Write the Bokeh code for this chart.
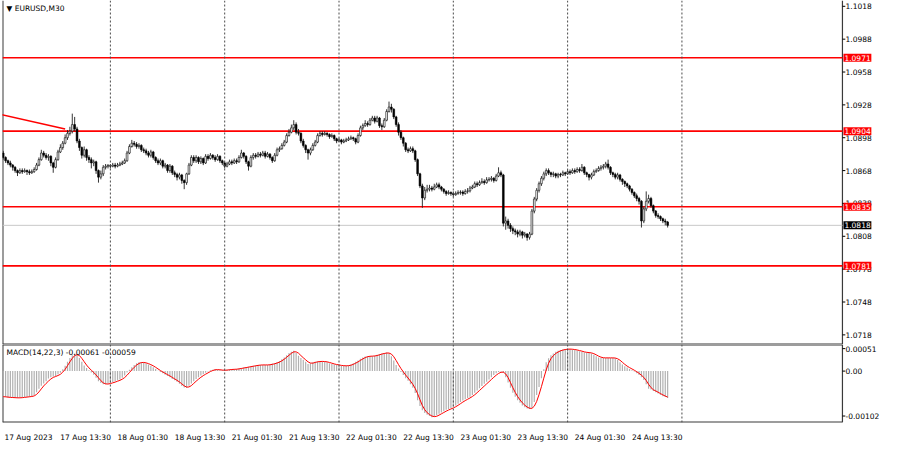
import pandas as pd
from bokeh.plotting import figure
from bokeh.layouts import column
from bokeh.models import (Range1d, FixedTicker, Span, Label, ColumnDataSource,
                          NumeralTickFormatter)
from bokeh.embed import file_html
from bokeh.resources import INLINE

# ---------------- data (EURUSD, M30) ----------------
symbol_title = "\u25BC EURUSD,M30"
first_bar_time = "2023-08-17 01:30"
first_open = 1.0884

close = [
    1.0880, 1.0877, 1.0875, 1.0873, 1.0871, 1.0868, 1.0866, 1.0868, 1.0867, 1.0868, 1.0867, 1.0866,
    1.0867, 1.0869, 1.0873, 1.0878, 1.0884, 1.0882, 1.0880, 1.0881, 1.0875, 1.0871, 1.0878, 1.0885,
    1.0889, 1.0893, 1.0898, 1.0902, 1.0904, 1.0910, 1.0906, 1.0895, 1.0889, 1.0882, 1.0887, 1.0880,
    1.0878, 1.0875, 1.0876, 1.0868, 1.0862, 1.0865, 1.0871, 1.0872, 1.08725, 1.0872, 1.0873, 1.0872,
    1.0873, 1.0874, 1.0875, 1.0877, 1.0884, 1.0890, 1.0893, 1.0892, 1.0890, 1.0891, 1.0887, 1.0886,
    1.0884, 1.0882, 1.0885, 1.0880, 1.0877, 1.0875, 1.0877, 1.0872, 1.0873, 1.0868, 1.0872, 1.0866,
    1.08645, 1.0862, 1.0864, 1.0859, 1.0857, 1.0865, 1.0873, 1.0880, 1.0877, 1.0880, 1.0876, 1.0879,
    1.0875, 1.0881, 1.0879, 1.0882, 1.0880, 1.0878, 1.0881, 1.0877, 1.0875, 1.0872, 1.0874, 1.0876,
    1.0875, 1.0877, 1.0876, 1.0880, 1.0884, 1.0881, 1.0876, 1.0872, 1.0880, 1.0882, 1.0881, 1.0883,
    1.0882, 1.0884, 1.0881, 1.0883, 1.0880, 1.0877, 1.0882, 1.0887, 1.0888, 1.0891, 1.0894, 1.0900,
    1.0903, 1.0907, 1.0910, 1.0903, 1.0902, 1.0895, 1.0891, 1.0887, 1.0884, 1.0887, 1.0891, 1.0894,
    1.0900, 1.0902, 1.0901, 1.0902, 1.0901, 1.0899, 1.0900, 1.0897, 1.0895, 1.0896, 1.0894, 1.0895,
    1.0896, 1.0897, 1.0898, 1.0897, 1.0894, 1.0900, 1.0907, 1.0909, 1.0911, 1.0910, 1.0914, 1.0916,
    1.0913, 1.0916, 1.0909, 1.0908, 1.0914, 1.0922, 1.0926, 1.0924, 1.0917, 1.0910, 1.0903, 1.0898,
    1.0893, 1.0887, 1.0886, 1.0888, 1.0886, 1.0878, 1.0865, 1.0854, 1.0843, 1.0850, 1.0851, 1.0852,
    1.0851, 1.0853, 1.0855, 1.0853, 1.0851, 1.0849, 1.0847, 1.0848, 1.0847, 1.0846, 1.0847, 1.0848,
    1.08484, 1.0847, 1.0849, 1.08495, 1.0852, 1.0853, 1.0856, 1.0855, 1.0857, 1.0858, 1.0857, 1.08595,
    1.0860, 1.0861, 1.0859, 1.0863, 1.0866, 1.0864, 1.0820, 1.0822, 1.0818, 1.0815, 1.0813, 1.0812,
    1.0810, 1.0812, 1.0809, 1.0810, 1.0807, 1.0810, 1.0831, 1.0842, 1.0850, 1.0856, 1.0861, 1.0865,
    1.0868, 1.0866, 1.08645, 1.0865, 1.0863, 1.08645, 1.0864, 1.0866, 1.0865, 1.0867, 1.0866, 1.0868,
    1.0867, 1.0869, 1.0868, 1.0871, 1.0866, 1.08645, 1.0862, 1.0864, 1.0867, 1.0868, 1.0870, 1.0871,
    1.0872, 1.0874, 1.0871, 1.0866, 1.08645, 1.0862, 1.0864, 1.0860, 1.0858, 1.0856, 1.0854, 1.0851,
    1.0848, 1.0845, 1.08425, 1.0840, 1.0822, 1.0833, 1.0840, 1.08425, 1.0836, 1.0831, 1.0827, 1.0826,
    1.0824, 1.0822, 1.0821, 1.0818,
]

high = [
    1.0886, 1.0881, 1.0878, 1.0877, 1.0874, 1.0872, 1.0869, 1.0870, 1.0870, 1.0870, 1.0869, 1.0869,
    1.0869, 1.0871, 1.0875, 1.0880, 1.0887, 1.0886, 1.0884, 1.0883, 1.0882, 1.0876, 1.0880, 1.0887,
    1.0892, 1.0895, 1.0901, 1.0905, 1.0908, 1.0920, 1.0917, 1.0908, 1.0897, 1.0890, 1.0890, 1.0888,
    1.0882, 1.0880, 1.0878, 1.0877, 1.0869, 1.0868, 1.0873, 1.0874, 1.0874, 1.0874, 1.0875, 1.0875,
    1.0875, 1.0876, 1.0877, 1.0879, 1.0886, 1.0892, 1.0896, 1.0895, 1.0894, 1.0893, 1.0892, 1.0889,
    1.0888, 1.0886, 1.0887, 1.0886, 1.0881, 1.0879, 1.0879, 1.0878, 1.0875, 1.0874, 1.0874, 1.0873,
    1.0868, 1.0866, 1.0866, 1.0865, 1.0860, 1.0866, 1.0875, 1.0882, 1.0882, 1.0882, 1.0881, 1.0881,
    1.0880, 1.0883, 1.0883, 1.0884, 1.0883, 1.0882, 1.0883, 1.0882, 1.0878, 1.0876, 1.0876, 1.0878,
    1.0878, 1.0879, 1.0879, 1.0882, 1.0887, 1.0885, 1.0882, 1.0877, 1.0882, 1.0884, 1.0884, 1.0885,
    1.0885, 1.0886, 1.0886, 1.0885, 1.0884, 1.0881, 1.0884, 1.0889, 1.0890, 1.0893, 1.0896, 1.0902,
    1.0906, 1.0910, 1.0914, 1.0912, 1.0906, 1.0903, 1.0897, 1.0892, 1.0888, 1.0889, 1.0893, 1.0896,
    1.0902, 1.0904, 1.0904, 1.0904, 1.0903, 1.0902, 1.0902, 1.0901, 1.0898, 1.0898, 1.0897, 1.0897,
    1.0898, 1.0899, 1.0900, 1.0899, 1.0898, 1.0902, 1.0909, 1.0911, 1.0914, 1.0913, 1.0916, 1.0918,
    1.0918, 1.0918, 1.0917, 1.0911, 1.0916, 1.0924, 1.0931, 1.0929, 1.0925, 1.0918, 1.0912, 1.0905,
    1.0899, 1.0894, 1.0889, 1.0890, 1.0890, 1.0887, 1.0879, 1.0866, 1.0856, 1.0853, 1.0855, 1.0855,
    1.0854, 1.0856, 1.0857, 1.0857, 1.0854, 1.0852, 1.0850, 1.0850, 1.0849, 1.0849, 1.0849, 1.0850,
    1.0850, 1.0850, 1.0851, 1.0852, 1.0854, 1.0855, 1.0858, 1.0858, 1.0859, 1.0861, 1.0860, 1.0862,
    1.0862, 1.0863, 1.0862, 1.0865, 1.0871, 1.0868, 1.0865, 1.0826, 1.0824, 1.0820, 1.0817, 1.0815,
    1.0814, 1.0814, 1.0813, 1.0812, 1.0811, 1.0812, 1.0833, 1.0844, 1.0852, 1.0858, 1.0863, 1.0867,
    1.0870, 1.0870, 1.0867, 1.0867, 1.0866, 1.0866, 1.0866, 1.0868, 1.0867, 1.0869, 1.0869, 1.0870,
    1.0870, 1.0871, 1.0871, 1.0874, 1.0872, 1.0867, 1.0865, 1.0866, 1.0869, 1.0870, 1.0872, 1.0873,
    1.0874, 1.0876, 1.0878, 1.0872, 1.0867, 1.0866, 1.0866, 1.0865, 1.0861, 1.0859, 1.0857, 1.0855,
    1.0852, 1.0849, 1.0847, 1.0844, 1.0841, 1.0835, 1.0849, 1.0846, 1.0844, 1.0837, 1.0832, 1.0829,
    1.0827, 1.0825, 1.0824, 1.0822,
]

low = [
    1.0878, 1.0875, 1.0873, 1.0871, 1.0868, 1.0866, 1.0863, 1.0865, 1.0865, 1.0866, 1.0864, 1.0864,
    1.0865, 1.0866, 1.0868, 1.0872, 1.0877, 1.0880, 1.0878, 1.0877, 1.0872, 1.0866, 1.0870, 1.0877,
    1.0884, 1.0887, 1.0892, 1.0896, 1.0900, 1.0902, 1.0904, 1.0893, 1.0886, 1.0879, 1.0880, 1.0877,
    1.0875, 1.0870, 1.0872, 1.0865, 1.0857, 1.0860, 1.0863, 1.0869, 1.0870, 1.0870, 1.0871, 1.0870,
    1.0871, 1.0872, 1.0873, 1.0874, 1.0876, 1.0883, 1.0889, 1.0890, 1.0888, 1.0888, 1.0885, 1.0884,
    1.0882, 1.0880, 1.0880, 1.0878, 1.0875, 1.0873, 1.0873, 1.0870, 1.0870, 1.0866, 1.0866, 1.0864,
    1.0862, 1.0859, 1.0860, 1.0856, 1.0851, 1.0855, 1.0864, 1.0872, 1.0875, 1.0875, 1.0874, 1.0874,
    1.0873, 1.0874, 1.0877, 1.0878, 1.0878, 1.0876, 1.0877, 1.0875, 1.0873, 1.0870, 1.0871, 1.0873,
    1.0873, 1.0874, 1.0874, 1.0875, 1.0879, 1.0879, 1.0874, 1.0868, 1.0871, 1.0878, 1.0879, 1.0880,
    1.0880, 1.0881, 1.0879, 1.0880, 1.0878, 1.0875, 1.0876, 1.0881, 1.0885, 1.0887, 1.0890, 1.0893,
    1.0899, 1.0902, 1.0905, 1.0901, 1.0900, 1.0893, 1.0889, 1.0884, 1.0878, 1.0882, 1.0886, 1.0890,
    1.0893, 1.0899, 1.0899, 1.0900, 1.0899, 1.0897, 1.0898, 1.0895, 1.0893, 1.0894, 1.0892, 1.0893,
    1.0894, 1.0895, 1.0896, 1.0895, 1.0892, 1.0893, 1.0899, 1.0905, 1.0908, 1.0908, 1.0909, 1.0913,
    1.0911, 1.0912, 1.0907, 1.0905, 1.0907, 1.0913, 1.0921, 1.0921, 1.0915, 1.0908, 1.0900, 1.0896,
    1.0890, 1.0885, 1.0884, 1.0885, 1.0884, 1.0876, 1.0863, 1.0852, 1.0834, 1.0841, 1.0848, 1.0849,
    1.0849, 1.0850, 1.0852, 1.0851, 1.0849, 1.0847, 1.0845, 1.0846, 1.0845, 1.0844, 1.0845, 1.0846,
    1.0846, 1.0845, 1.0846, 1.0847, 1.0848, 1.0851, 1.0852, 1.0853, 1.0854, 1.0856, 1.0855, 1.0856,
    1.0858, 1.0858, 1.0857, 1.0858, 1.0862, 1.0862, 1.0817, 1.0814, 1.0815, 1.0812, 1.0810, 1.0809,
    1.0807, 1.0808, 1.0806, 1.0807, 1.0804, 1.0805, 1.0809, 1.0829, 1.0840, 1.0848, 1.0854, 1.0859,
    1.0863, 1.0864, 1.0862, 1.0862, 1.0861, 1.0861, 1.0862, 1.0863, 1.0863, 1.0864, 1.0864, 1.0865,
    1.0865, 1.0866, 1.0866, 1.0867, 1.0864, 1.0862, 1.0859, 1.0860, 1.0863, 1.0866, 1.0867, 1.0868,
    1.0869, 1.0870, 1.0869, 1.0864, 1.0862, 1.0860, 1.0860, 1.0858, 1.0855, 1.0853, 1.0852, 1.0849,
    1.0846, 1.0843, 1.0840, 1.0837, 1.0816, 1.0820, 1.0831, 1.0838, 1.0834, 1.0829, 1.0825, 1.0824,
    1.0822, 1.0820, 1.0818, 1.0816,
]

macd_main = [
    -0.00058, -0.00059, -0.00060, -0.00060, -0.00060, -0.00061, -0.00061, -0.00060, -0.00060, -0.00059, -0.00058, -0.00058,
    -0.00057, -0.00054, -0.00048, -0.00040, -0.00033, -0.00028, -0.00023, -0.00017, -0.00014, -0.00012, -0.00011, -0.00007,
    -0.00004, 0.00004, 0.00012, 0.00021, 0.00030, 0.00036, 0.00040, 0.00036, 0.00030, 0.00021, 0.00013, 0.00007,
    0.00002, -0.00003, -0.00008, -0.00015, -0.00023, -0.00027, -0.00030, -0.00030, -0.00028, -0.00027, -0.00025, -0.00023,
    -0.00021, -0.00019, -0.00015, -0.00010, -0.00003, 0.00003, 0.00009, 0.00014, 0.00018, 0.00020, 0.00020, 0.00019,
    0.00017, 0.00015, 0.00012, 0.00009, 0.00005, 0.00001, -0.00002, -0.00005, -0.00008, -0.00011, -0.00014, -0.00018,
    -0.00021, -0.00024, -0.00029, -0.00034, -0.00037, -0.00038, -0.00033, -0.00028, -0.00023, -0.00018, -0.00014, -0.00010,
    -0.00007, -0.00004, -0.00001, 0.00002, 0.00003, 0.00004, 0.00003, 0.00002, 0.00002, 0.00002, 0.00003, 0.00004,
    0.00004, 0.00004, 0.00005, 0.00006, 0.00007, 0.00008, 0.00009, 0.00010, 0.00011, 0.00012, 0.00013, 0.00014,
    0.00014, 0.00014, 0.00014, 0.00014, 0.00015, 0.00017, 0.00018, 0.00020, 0.00023, 0.00027, 0.00031, 0.00036,
    0.00041, 0.00044, 0.00046, 0.00041, 0.00035, 0.00030, 0.00026, 0.00021, 0.00016, 0.00018, 0.00020, 0.00021,
    0.00022, 0.00022, 0.00022, 0.00021, 0.00020, 0.00018, 0.00016, 0.00015, 0.00014, 0.00013, 0.00012, 0.00012,
    0.00012, 0.00013, 0.00015, 0.00018, 0.00021, 0.00024, 0.00028, 0.00031, 0.00033, 0.00034, 0.00034, 0.00034,
    0.00035, 0.00037, 0.00039, 0.00040, 0.00041, 0.00042, 0.00040, 0.00034, 0.00024, 0.00014, 0.00006, -0.00002,
    -0.00009, -0.00016, -0.00022, -0.00030, -0.00038, -0.00050, -0.00066, -0.00079, -0.00089, -0.00095, -0.00099, -0.00102,
    -0.00105, -0.00103, -0.00100, -0.00097, -0.00094, -0.00091, -0.00088, -0.00086, -0.00084, -0.00081, -0.00078, -0.00074,
    -0.00070, -0.00067, -0.00064, -0.00061, -0.00058, -0.00054, -0.00049, -0.00044, -0.00039, -0.00034, -0.00029, -0.00024,
    -0.00019, -0.00014, -0.00009, -0.00005, -0.00002, -0.00001, -0.00004, -0.00014, -0.00026, -0.00038, -0.00049, -0.00058,
    -0.00066, -0.00072, -0.00078, -0.00082, -0.00085, -0.00086, -0.00083, -0.00070, -0.00054, -0.00036, -0.00016, 0.00004,
    0.00020, 0.00029, 0.00036, 0.00040, 0.00044, 0.00046, 0.00048, 0.00049, 0.00050, 0.00050, 0.00050, 0.00049,
    0.00048, 0.00047, 0.00045, 0.00044, 0.00042, 0.00042, 0.00042, 0.00040, 0.00037, 0.00034, 0.00031, 0.00030,
    0.00030, 0.00030, 0.00030, 0.00030, 0.00030, 0.00029, 0.00025, 0.00020, 0.00015, 0.00011, 0.00008, 0.00005,
    0.00002, -0.00001, -0.00005, -0.00009, -0.00014, -0.00020, -0.00030, -0.00040, -0.00042, -0.00045, -0.00048, -0.00051,
    -0.00054, -0.00057, -0.00059, -0.00061,
]
macd_params = (14, 22, 3)

levels = [1.0971, 1.0904, 1.0835, 1.0781]
bid_price = 1.0818
trend_bar_pos = [-1.0, 26.0]
trend_prices = [1.09192, 1.09060]

price_ticks = [1.1018, 1.0988, 1.0958, 1.0928, 1.0898, 1.0868, 1.0838, 1.0808, 1.0778, 1.0748, 1.0718]
macd_ticks = [0.00051, 0.0, -0.00102]
macd_tick_labels = ["0.00051", "0.00", "-0.00102"]

time_tick_times = ["2023-08-17 01:30", "2023-08-17 13:30", "2023-08-18 01:30", "2023-08-18 13:30",
                   "2023-08-21 01:30", "2023-08-21 13:30", "2023-08-22 01:30", "2023-08-22 13:30",
                   "2023-08-23 01:30", "2023-08-23 13:30", "2023-08-24 01:30", "2023-08-24 13:30"]
time_tick_labels = ["17 Aug 2023", "17 Aug 13:30", "18 Aug 01:30", "18 Aug 13:30",
                    "21 Aug 01:30", "21 Aug 13:30", "22 Aug 01:30", "22 Aug 13:30",
                    "23 Aug 01:30", "23 Aug 13:30", "24 Aug 01:30", "24 Aug 13:30"]
separator_days = ["2023-08-18", "2023-08-21", "2023-08-22", "2023-08-23", "2023-08-24", "2023-08-25"]

# ---------------- derived ----------------
n = len(close)
idx = list(range(n))
opens = [first_open] + close[:-1]
hi = [max(h, o, c) for h, o, c in zip(high, opens, close)]
lo = [min(l, o, c) for l, o, c in zip(low, opens, close)]

full = pd.date_range(first_bar_time, periods=900, freq="30min")
bar_times = full[full.dayofweek < 5]


def bar_pos(t):
    return int(bar_times.get_loc(pd.Timestamp(t)))


signal = pd.Series(macd_main).rolling(macd_params[2], min_periods=1).mean().tolist()

bull = [i for i in idx if close[i] >= opens[i]]
bear = [i for i in idx if close[i] < opens[i]]
bull_src = ColumnDataSource(dict(x=bull, top=[close[i] for i in bull], bottom=[opens[i] for i in bull]))
bear_src = ColumnDataSource(dict(x=bear, top=[opens[i] for i in bear], bottom=[close[i] for i in bear]))
wick_src = ColumnDataSource(dict(x=idx, high=hi, low=lo))

# ---------------- layout / style ----------------
FONT = "DejaVu Sans"
FSIZE = "7.5px"
BORDER = "#3a3a3a"
view_start, chart_end, view_end = -0.3, 352.4, 364.6   # chart area ends at chart_end, price scale beyond
tick_len = 1.2
LABEL_STANDOFF = -26

box_extra = {"padding": 1} if "padding" in Label.properties() else {}

xr = Range1d(view_start, view_end)
common = dict(width=884, output_backend="svg", toolbar_location=None,
              min_border_left=2, min_border_right=13,
              background_fill_color="white", border_fill_color="white")


def style_yaxis(ax):
    ax.axis_line_color = None
    ax.major_tick_line_color = None
    ax.major_tick_out = 0
    ax.major_tick_in = 0
    ax.minor_tick_line_color = None
    ax.major_label_text_font = FONT
    ax.major_label_text_font_size = FSIZE
    ax.major_label_text_color = "#000000"
    ax.major_label_standoff = LABEL_STANDOFF


def add_frame(fig, yrng, ticks, top_edge):
    y0, y1 = yrng.start, yrng.end
    xs0 = [view_start, view_start]
    xs1 = [view_start, chart_end]
    ys0 = [y0, y0]
    ys1 = [y1, y0]
    if top_edge:
        xs0.append(view_start); xs1.append(chart_end); ys0.append(y1); ys1.append(y1)
    fig.segment(x0=xs0, y0=ys0, x1=xs1, y1=ys1, line_color=BORDER, line_width=2)
    fig.segment(x0=[chart_end], y0=[y0], x1=[chart_end], y1=[y1], line_color=BORDER, line_width=1.2)
    fig.segment(x0=[chart_end] * len(ticks), x1=[chart_end + tick_len] * len(ticks),
                y0=ticks, y1=ticks, line_color="#000000", line_width=1)
    for d in separator_days:
        fig.add_layout(Span(location=bar_pos(d), dimension="height", line_color="#4a4a4a",
                            line_dash="2 2", line_width=1))


def price_box(fig, price, color):
    fig.add_layout(Label(x=chart_end, y=price, x_offset=1, text=f"{price:.4f}", text_color="#ffffff",
                         background_fill_color=color, text_font=FONT, text_font_size=FSIZE,
                         text_baseline="middle", text_align="left", **box_extra))


# ---------------- main price panel ----------------
yr = Range1d(1.07092, 1.10233)
p = figure(height=344, x_range=xr, y_range=yr,
           x_axis_location=None, y_axis_location="right",
           min_border_top=0, min_border_bottom=0, **common)
p.grid.visible = False
p.outline_line_color = None
style_yaxis(p.yaxis[0])
p.yaxis.ticker = FixedTicker(ticks=price_ticks)
p.yaxis.formatter = NumeralTickFormatter(format="0.0000")

add_frame(p, yr, price_ticks, top_edge=False)

p.segment(x0=[view_start], x1=[chart_end], y0=[bid_price], y1=[bid_price],
          line_color="#c8c8c8", line_width=1)
p.segment(x0=[view_start] * len(levels), x1=[chart_end] * len(levels), y0=levels, y1=levels,
          line_color="#ff0000", line_width=1.6)
p.line(trend_bar_pos, trend_prices, line_color="#ff0000", line_width=1.6)

p.segment(x0="x", y0="low", x1="x", y1="high", source=wick_src, line_color="#202020", line_width=0.9)
p.vbar(x="x", width=0.72, top="top", bottom="bottom", source=bull_src,
       fill_color="#ffffff", line_color="#000000", line_width=0.6)
p.vbar(x="x", width=0.72, top="top", bottom="bottom", source=bear_src,
       fill_color="#000000", line_color="#000000", line_width=0.6)

for lvl in levels:
    price_box(p, lvl, "#ff0000")
price_box(p, bid_price, "#000000")

p.add_layout(Label(x=view_start, y=yr.end, x_offset=4, y_offset=-3, text=symbol_title,
                   text_color="#000000", text_font=FONT, text_font_size=FSIZE,
                   text_baseline="top", text_align="left"))

# ---------------- MACD panel ----------------
myr = Range1d(-0.001167, 0.000604)
m = figure(height=100, x_range=xr, y_range=myr,
           y_axis_location="right", min_border_top=0, min_border_bottom=0, **common)
m.grid.visible = False
m.outline_line_color = None
style_yaxis(m.yaxis[0])
m.yaxis.ticker = FixedTicker(ticks=macd_ticks)
m.yaxis.major_label_overrides = {t: s for t, s in zip(macd_ticks, macd_tick_labels)}

label_shift = 10.6
x_ticks = [bar_pos(t) + label_shift for t in time_tick_times]
m.xaxis.ticker = FixedTicker(ticks=x_ticks)
m.xaxis.major_label_overrides = {t: s for t, s in zip(x_ticks, time_tick_labels)}
m.xaxis.axis_line_color = None
m.xaxis.major_tick_line_color = None
m.xaxis.minor_tick_line_color = None
m.xaxis.major_label_text_font = FONT
m.xaxis.major_label_text_font_size = FSIZE
m.xaxis.major_label_text_color = "#000000"
m.xaxis.major_label_standoff = 4

add_frame(m, myr, macd_ticks, top_edge=True)

m.vbar(x=idx, top=macd_main, bottom=0, width=0.5, fill_color="#b0b0b0", line_color=None)
m.line(idx, signal, line_color="#ff0000", line_width=1)

macd_text = "MACD({},{},{}) {:.5f} {:.5f}".format(*macd_params, macd_main[-1], signal[-1])
m.add_layout(Label(x=view_start, y=myr.end, x_offset=4, y_offset=-3, text=macd_text,
                   text_color="#000000", text_font=FONT, text_font_size=FSIZE,
                   text_baseline="top", text_align="left"))

layout = column(p, m, spacing=0)
open("out.html", "w").write(file_html(layout, INLINE))
